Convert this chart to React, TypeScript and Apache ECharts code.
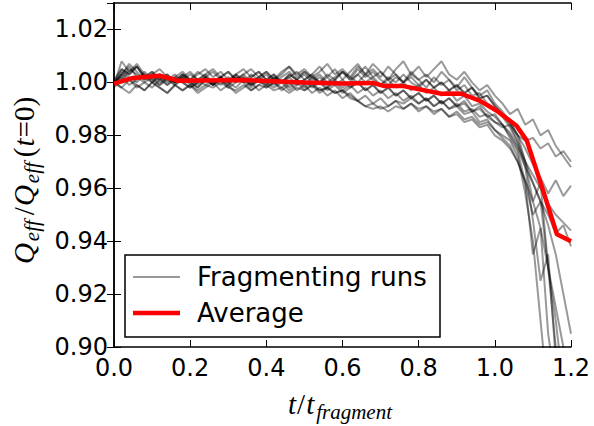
import React, { useEffect, useRef } from "react";
import * as echarts from "echarts";

const tGrid = [
  0.0, 0.02, 0.04, 0.06, 0.08, 0.1, 0.12, 0.14, 0.16, 0.18, 0.2,
  0.22, 0.24, 0.26, 0.28, 0.3, 0.32, 0.34, 0.36, 0.38, 0.4,
  0.42, 0.44, 0.46, 0.48, 0.5, 0.52, 0.54, 0.56, 0.58, 0.6,
  0.62, 0.64, 0.66, 0.68, 0.7, 0.72, 0.74, 0.76, 0.78, 0.8,
  0.82, 0.84, 0.86, 0.88, 0.9, 0.92, 0.94, 0.96, 0.98, 1.0,
  1.02, 1.04, 1.06, 1.08, 1.1, 1.12, 1.14, 1.16, 1.18, 1.2,
];

const runA = [
  1.0, 1.005, 1.003, 1.006, 1.002, 1.004, 1.001, 1.003, 1.0, 1.002, 1.004,
  1.001, 1.003, 1.005, 1.002, 1.004, 1.001, 1.003, 1.0, 1.002, 1.004,
  1.001, 1.004, 1.006, 1.003, 1.005, 1.002, 1.004, 1.007, 1.003, 1.005,
  1.002, 1.006, 1.003, 1.007, 1.004, 1.001, 1.005, 1.008, 1.003, 1.006,
  1.002, 1.005, 1.008, 1.003, 1.001, 1.004, 1.0, 0.997, 0.999, 0.995,
  0.992, 0.988, 0.99, 0.984, 0.986, 0.98, 0.982, 0.976, 0.972, 0.968,
];
const runB = [
  0.999, 1.008, 1.004, 1.006, 1.002, 1.0, 1.003, 1.001, 0.999, 1.002, 1.0,
  0.998, 1.001, 0.999, 1.002, 1.0, 0.998, 1.001, 0.999, 1.002, 1.0,
  0.998, 1.0, 0.997, 0.999, 1.001, 0.998, 1.0, 0.997, 0.999, 0.996,
  0.998, 1.0, 0.997, 0.999, 0.996, 0.998, 0.995, 0.997, 0.994, 0.996,
  0.993, 0.995, 0.992, 0.994, 0.991, 0.993, 0.989, 0.991, 0.987, 0.985,
  0.984, 0.979, 0.974, 0.962, 0.935, 0.945, 0.905, 0.885,
];
const runC = [
  1.0, 0.998, 0.996, 0.999, 0.997, 1.0, 0.998, 0.996, 0.999, 0.997, 0.999,
  0.996, 0.998, 1.0, 0.997, 0.999, 0.996, 0.998, 1.0, 0.997, 0.999,
  0.997, 0.998, 0.996, 0.998, 0.997, 0.999, 0.997, 0.998, 0.996, 0.997,
  0.995, 0.993, 0.991, 0.99, 0.991, 0.989, 0.991, 0.99, 0.992, 0.99,
  0.991, 0.989, 0.99, 0.987, 0.988, 0.985, 0.986, 0.983, 0.984, 0.98,
  0.978, 0.975, 0.97, 0.962, 0.95, 0.955, 0.93, 0.91, 0.885,
];
const runD = [
  1.0, 1.003, 1.007, 1.004, 1.001, 1.003, 1.005, 1.002, 1.0, 1.003, 1.001,
  0.999, 1.002, 1.004, 1.001, 0.999, 1.002, 1.0, 1.003, 1.001, 0.999,
  1.002, 1.0, 1.003, 1.001, 1.004, 1.002, 1.0, 1.003, 1.001, 1.004,
  1.002, 1.0, 1.003, 1.001, 0.999, 1.002, 1.0, 1.003, 1.0, 0.998,
  1.001, 0.998, 1.0, 0.997, 0.999, 0.996, 0.998, 0.994, 0.995, 0.991,
  0.988, 0.984, 0.978, 0.97, 0.962, 0.955, 0.95, 0.943, 0.946, 0.938,
];
const runE = [
  0.998, 1.001, 1.004, 1.007, 1.003, 1.0, 1.002, 0.999, 1.001, 1.003, 1.0,
  0.998, 1.001, 0.999, 1.002, 1.0, 1.003, 1.001, 0.998, 1.001, 0.999,
  1.002, 1.0, 1.003, 1.001, 0.999, 1.002, 1.0, 0.998, 1.001, 1.004,
  1.001, 1.005, 1.002, 1.004, 1.001, 0.999, 1.002, 1.0, 1.003, 1.001,
  0.998, 1.002, 0.999, 1.001, 0.997, 0.999, 0.995, 0.996, 0.992, 0.99,
  0.987, 0.983, 0.977, 0.968, 0.948, 0.925, 0.935, 0.895,
];
const runF = [
  1.0, 1.003, 1.001, 0.998, 1.0, 1.002, 0.999, 1.001, 1.003, 1.0, 0.998,
  1.0, 1.002, 0.999, 1.001, 0.998, 1.0, 1.002, 0.999, 1.001, 0.998,
  1.0, 0.997, 0.999, 1.001, 0.998, 1.0, 0.997, 0.998, 0.996, 0.997,
  0.994, 0.993, 0.991, 0.992, 0.99, 0.991, 0.993, 0.992, 0.994, 0.992,
  0.994, 0.991, 0.993, 0.99, 0.992, 0.989, 0.99, 0.987, 0.988, 0.985,
  0.983, 0.984, 0.98, 0.978, 0.979, 0.975, 0.977, 0.972, 0.974, 0.97,
];
const runG = [
  0.999, 1.002, 0.999, 1.001, 1.004, 1.001, 1.003, 1.0, 1.002, 1.004, 1.001,
  1.003, 1.005, 1.002, 1.004, 1.001, 1.003, 1.0, 1.002, 1.004, 1.001,
  1.003, 1.0, 1.002, 0.999, 1.001, 1.003, 1.0, 1.002, 0.999, 1.001,
  0.998, 1.0, 0.997, 0.999, 0.996, 0.998, 0.995, 0.997, 0.994, 0.996,
  0.993, 0.995, 0.992, 0.994, 0.991, 0.992, 0.989, 0.99, 0.987, 0.988,
  0.984, 0.98, 0.975, 0.968, 0.962, 0.955, 0.946, 0.935, 0.92, 0.905,
];
const runH = [
  1.0, 0.998, 1.001, 0.999, 0.997, 1.0, 0.998, 0.996, 0.999, 0.997, 0.999,
  0.997, 0.999, 0.998, 1.0, 0.998, 0.997, 0.999, 0.997, 0.999, 0.998,
  1.0, 0.998, 1.0, 0.997, 0.999, 0.996, 0.998, 0.995, 0.997, 0.994,
  0.996, 0.993, 0.995, 0.992, 0.994, 0.991, 0.993, 0.99, 0.992, 0.989,
  0.991, 0.988, 0.99, 0.987, 0.989, 0.986, 0.987, 0.984, 0.985, 0.982,
  0.98, 0.978, 0.972, 0.958, 0.94, 0.91, 0.88,
];
const runI = [
  1.001, 1.005, 1.003, 1.006, 1.002, 1.004, 1.001, 1.003, 1.0, 1.002, 0.999,
  1.001, 1.003, 1.0, 1.002, 1.004, 1.001, 1.003, 1.005, 1.002, 1.004,
  1.001, 1.003, 1.006, 1.002, 1.004, 1.001, 1.003, 1.0, 1.002, 1.004,
  1.001, 1.003, 1.006, 1.002, 1.004, 1.001, 1.003, 1.0, 1.002, 0.999,
  1.001, 0.998, 1.0, 0.997, 0.999, 0.996, 0.998, 0.994, 0.995, 0.991,
  0.988, 0.985, 0.98, 0.975, 0.969, 0.964, 0.958, 0.963, 0.957, 0.961,
];
const runJ = [
  0.999, 1.003, 1.006, 1.002, 1.0, 0.998, 1.001, 0.999, 1.002, 1.0, 0.998,
  1.0, 1.002, 0.999, 1.001, 0.999, 1.002, 1.0, 0.997, 0.999, 1.001,
  0.999, 1.001, 0.998, 1.0, 0.997, 0.999, 0.996, 0.998, 1.0, 0.997,
  0.999, 0.996, 0.998, 0.995, 0.997, 0.994, 0.996, 0.993, 0.995, 0.992,
  0.994, 0.991, 0.993, 0.99, 0.991, 0.988, 0.989, 0.985, 0.986, 0.982,
  0.979, 0.976, 0.97, 0.963, 0.955, 0.945, 0.93, 0.915, 0.9, 0.88,
];
const runK = [
  1.0, 1.002, 1.005, 1.003, 1.001, 1.003, 1.0, 1.002, 0.999, 1.001, 1.003,
  1.001, 0.999, 1.001, 0.999, 1.002, 1.0, 1.002, 0.999, 1.001, 1.003,
  1.0, 1.002, 1.004, 1.001, 1.003, 1.0, 1.002, 0.999, 1.001, 0.998,
  1.0, 1.003, 1.0, 1.002, 0.999, 1.001, 0.998, 1.0, 0.997, 0.999,
  0.996, 0.998, 0.995, 0.997, 0.993, 0.995, 0.991, 0.992, 0.989, 0.987,
  0.984, 0.981, 0.976, 0.97, 0.965, 0.96, 0.954, 0.95, 0.947, 0.944,
];
const runL = [
  0.999, 1.004, 1.002, 1.0, 1.003, 1.001, 0.999, 1.002, 1.0, 1.003, 1.001,
  1.004, 1.002, 1.0, 1.002, 1.0, 1.003, 1.005, 1.002, 1.004, 1.001,
  1.003, 1.0, 1.002, 1.004, 1.001, 1.003, 1.006, 1.002, 1.005, 1.001,
  1.004, 1.007, 1.003, 1.005, 1.002, 1.006, 1.003, 1.0, 1.004, 1.001,
  1.003, 1.0, 1.004, 1.001, 0.998, 1.002, 0.998, 0.995, 0.997, 0.992,
  0.989, 0.985, 0.98, 0.97, 0.955, 0.962, 0.93, 0.9, 0.88,
];

const runs = [runA, runB, runC, runD, runE, runF, runG, runH, runI, runJ, runK, runL];

const avgT = [0.0, 0.05, 0.12, 0.17, 0.34, 0.5, 0.6, 0.68, 0.71, 0.76, 0.86, 0.91, 0.96, 1.005, 1.057, 1.084, 1.127, 1.163, 1.2];
const avgQ = [0.9995, 1.0017, 1.0025, 1.0006, 1.0009, 1.0, 0.9996, 0.9998, 0.9986, 0.9986, 0.9957, 0.9958, 0.9931, 0.9893, 0.9836, 0.978, 0.959, 0.9426, 0.94];

const legendLabels = ["Fragmenting runs", "Average"];

export default function App() {
  const ref = useRef<HTMLDivElement>(null);
  useEffect(() => {
    const chart = echarts.init(ref.current!, null, { renderer: "svg" });
    const series: any[] = runs.map((r) => ({
      type: "line",
      name: legendLabels[0],
      data: r.map((q, i) => [tGrid[i], q]),
      symbol: "none",
      clip: true,
      silent: true,
      lineStyle: { color: "rgba(0,0,0,0.4)", width: 2 },
      z: 2,
    }));
    series.push({
      type: "line",
      name: legendLabels[1],
      data: avgT.map((t, i) => [t, avgQ[i]]),
      symbol: "none",
      clip: true,
      silent: true,
      lineStyle: { color: "#ff0000", width: 4.5 },
      z: 3,
    });
    const axisLine = { show: true, lineStyle: { color: "#000", width: 1.5 } };
    const tick = { show: true, inside: true, length: 7, lineStyle: { color: "#000", width: 1 } };
    const labelFont = { fontFamily: "DejaVu Sans", fontSize: 24, color: "#000" };
    const serif = "Liberation Serif";
    const mathRich = {
      i: { fontFamily: serif, fontStyle: "italic", fontSize: 29, lineHeight: 32, verticalAlign: "middle" },
      n: { fontFamily: serif, fontSize: 29, lineHeight: 32, verticalAlign: "middle", padding: [0, 1, 0, 1] },
      s: { fontFamily: serif, fontStyle: "italic", fontSize: 21, lineHeight: 37, verticalAlign: "bottom", padding: [0, 4, 0, 2] },
    };
    chart.setOption({
      animation: false,
      backgroundColor: "#fff",
      grid: { left: 114, right: 23, top: 3, bottom: 79, containLabel: false },
      xAxis: [
        {
          type: "value", min: 0, max: 1.2, interval: 0.2, position: "bottom",
          axisLine, axisTick: tick, splitLine: { show: false },
          axisLabel: { ...labelFont, margin: 9, formatter: (v: number) => v.toFixed(1) },
        },
        {
          type: "value", min: 0, max: 1.2, interval: 0.2, position: "top",
          axisLine, axisTick: tick, splitLine: { show: false }, axisLabel: { show: false },
        },
      ],
      yAxis: [
        {
          type: "value", min: 0.9, max: 1.03, interval: 0.02, position: "left",
          axisLine, axisTick: tick, splitLine: { show: false },
          axisLabel: { ...labelFont, margin: 6, showMaxLabel: false, formatter: (v: number) => v.toFixed(2) },
        },
        {
          type: "value", min: 0.9, max: 1.03, interval: 0.02, position: "right",
          axisLine, axisTick: tick, splitLine: { show: false }, axisLabel: { show: false },
        },
      ],
      series,
      graphic: [
        {
          type: "group",
          z: 100,
          children: [
            { type: "rect", shape: { x: 125, y: 255, width: 315, height: 82 }, style: { fill: "#fff", stroke: "#000", lineWidth: 1.5 } },
            { type: "line", shape: { x1: 133, y1: 277, x2: 180, y2: 277 }, style: { stroke: "rgba(0,0,0,0.4)", lineWidth: 2 } },
            { type: "line", shape: { x1: 133, y1: 313, x2: 180, y2: 313 }, style: { stroke: "#ff0000", lineWidth: 4.5 } },
            { type: "text", x: 197, y: 277, style: { text: legendLabels[0], fontFamily: "DejaVu Sans", fontSize: 26, fill: "#000", verticalAlign: "middle", align: "left" } },
            { type: "text", x: 197, y: 313, style: { text: legendLabels[1], fontFamily: "DejaVu Sans", fontSize: 26, fill: "#000", verticalAlign: "middle", align: "left" } },
          ],
        },
        {
          type: "text",
          x: 342,
          y: 404,
          style: {
            text: "{i|t}{n|/}{i|t}{s|fragment}",
            align: "center",
            verticalAlign: "middle",
            fill: "#000",
            rich: mathRich,
          },
        },
        {
          type: "text",
          x: 24,
          y: 180,
          rotation: Math.PI / 2,
          style: {
            text: "{i|Q}{s|eff}{n|/}{i|Q}{s|eff}{n|(}{i|t}{n|=0)}",
            align: "center",
            verticalAlign: "middle",
            fill: "#000",
            rich: mathRich,
          },
        },
      ],
    });
    return () => chart.dispose();
  }, []);
  return <div ref={ref} style={{ position: "fixed", left: 0, top: 0, width: 594, height: 426 }} />;
}
